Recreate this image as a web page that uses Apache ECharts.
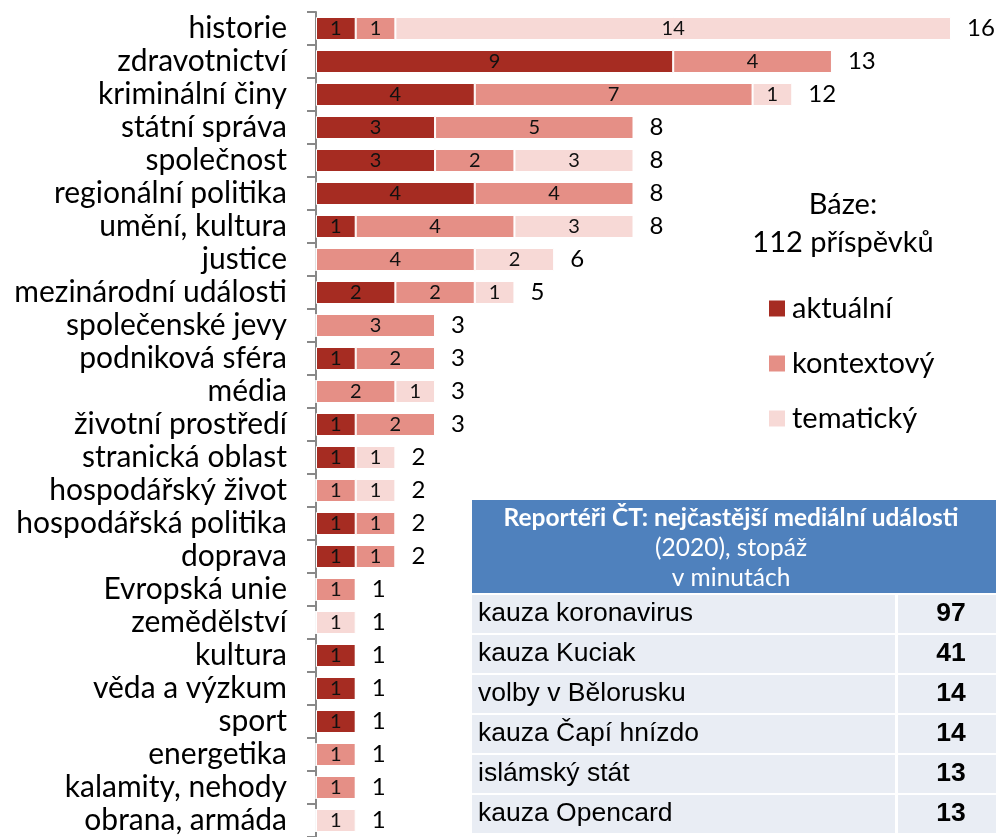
<!DOCTYPE html>
<html>
<head>
<meta charset="utf-8">
<script src="https://cdn.jsdelivr.net/npm/echarts@6/dist/echarts.min.js"></script>
<style>
  html, body { margin: 0; padding: 0; background: #fff; }
  #chart { width: 996px; height: 837px; }
</style>
</head>
<body>
<div id="chart"></div>
<script>
// kategorie témat (shora dolů)
const categories = [
  'historie', 'zdravotnictví', 'kriminální činy', 'státní správa', 'společnost',
  'regionální politika', 'umění, kultura', 'justice', 'mezinárodní události',
  'společenské jevy', 'podniková sféra', 'média', 'životní prostředí',
  'stranická oblast', 'hospodářský život', 'hospodářská politika', 'doprava',
  'Evropská unie', 'zemědělství', 'kultura', 'věda a výzkum', 'sport',
  'energetika', 'kalamity, nehody', 'obrana, armáda'
]
const aktualni   = [1, 9, 4, 3, 3, 4, 1, 0, 2, 0, 1, 0, 1, 1, 0, 1, 1, 0, 0, 1, 1, 1, 0, 0, 0]
const kontextovy = [1, 4, 7, 5, 2, 4, 4, 4, 2, 3, 2, 2, 2, 0, 1, 1, 1, 1, 0, 0, 0, 0, 1, 1, 0]
const tematicky  = [14, 0, 1, 0, 3, 0, 3, 2, 1, 0, 0, 1, 0, 1, 1, 0, 0, 0, 1, 0, 0, 0, 0, 0, 1]

// tabulka událostí
const tableTitle = ['Reportéři ČT: nejčastější mediální události', '(2020), stopáž', 'v minutách']
const events  = ['kauza koronavirus', 'kauza Kuciak', 'volby v Bělorusku', 'kauza Čapí hnízdo', 'islámský stát', 'kauza Opencard']
const minutes = [97, 41, 14, 14, 13, 13]

const baseText = ['Báze:', '112 příspěvků']

const COLORS = ['#A62C22', '#E58F86', '#F7D9D6']
const FONT = 'Lato, "Open Sans", sans-serif'

const totals = categories.map((_, i) => aktualni[i] + kontextovy[i] + tematicky[i])

const chart = echarts.init(document.getElementById('chart'))

function segment(name, data, color) {
  return {
    name,
    type: 'bar',
    stack: 'sum',
    barWidth: 23,
    data,
    itemStyle: { color, borderColor: '#fff', borderWidth: 1 },
    label: {
      show: true,
      position: 'inside',
      color: '#111',
      fontSize: 20,
      fontFamily: FONT,
      formatter: p => (p.value ? String(p.value) : '')
    },
    emphasis: { disabled: true }
  }
}

// tabulka jako graphic
const tableX = 472, tableR = 996, divX = 896
const headTop = 500, headH = 93
const rowTop = 595, rowH = 38, rowStep = 40
const tableEls = [
  { type: 'rect', shape: { x: tableX, y: headTop, width: tableR - tableX, height: headH }, style: { fill: '#4F81BD' } }
]
tableTitle.forEach((t, i) => {
  tableEls.push({
    type: 'text',
    x: (tableX + tableR) / 2 - 3,
    y: headTop + 18 + i * 30,
    style: {
      text: t, fill: '#fff', align: 'center', verticalAlign: 'middle',
      font: (i === 0 ? 'bold 24.5px' : '24.5px') + ' Lato, sans-serif'
    }
  })
})
events.forEach((ev, i) => {
  const y = rowTop + i * rowStep
  tableEls.push(
    { type: 'rect', shape: { x: tableX, y, width: divX - tableX - 1, height: rowH }, style: { fill: '#E9EDF4' } },
    { type: 'rect', shape: { x: divX + 2, y, width: tableR - divX - 2, height: rowH }, style: { fill: '#E9EDF4' } },
    { type: 'text', x: tableX + 6, y: y + rowH / 2, style: { text: ev, fill: '#000', verticalAlign: 'middle', font: '26.5px "Liberation Sans", Arial, sans-serif' } },
    { type: 'text', x: 951, y: y + rowH / 2, style: { text: String(minutes[i]), fill: '#000', align: 'center', verticalAlign: 'middle', font: 'bold 26.5px "Liberation Sans", Arial, sans-serif' } }
  )
})
baseText.forEach((t, i) => {
  tableEls.push({
    type: 'text', x: 843, y: 205 + i * 38,
    style: { text: t, fill: '#000', align: 'center', verticalAlign: 'middle', font: '29px Lato, sans-serif' }
  })
})

chart.setOption({
  animation: false,
  grid: { left: 316, right: 45, top: 12, bottom: -5 },
  legend: {
    data: ['aktuální', 'kontextový', 'tematický'],
    orient: 'vertical',
    left: 767,
    top: 294,
    padding: 0,
    icon: 'rect',
    itemWidth: 18,
    itemHeight: 18,
    itemGap: 26,
    selectedMode: false,
    textStyle: { fontSize: 29, fontFamily: FONT, color: '#000', padding: [0, 0, 0, 1] }
  },
  xAxis: { type: 'value', min: 0, max: 16, show: false },
  yAxis: {
    type: 'category',
    data: categories,
    inverse: true,
    axisLine: { show: true, lineStyle: { color: '#888', width: 2 } },
    axisTick: { show: true, interval: 0, length: 9, lineStyle: { color: '#888', width: 2 } },
    axisLabel: { interval: 0, color: '#000', fontSize: 30, fontFamily: FONT, margin: 29 }
  },
  series: [
    segment('aktuální', aktualni, COLORS[0]),
    segment('kontextový', kontextovy, COLORS[1]),
    segment('tematický', tematicky, COLORS[2]),
    {
      name: 'celkem',
      type: 'bar',
      barWidth: 23,
      barGap: '-100%',
      data: totals,
      silent: true,
      z: 1,
      itemStyle: { color: 'rgba(0,0,0,0)' },
      label: {
        show: true,
        position: 'right',
        distance: 16,
        color: '#000',
        fontSize: 24,
        fontFamily: FONT
      }
    }
  ],
  graphic: tableEls
})
</script>
</body>
</html>
